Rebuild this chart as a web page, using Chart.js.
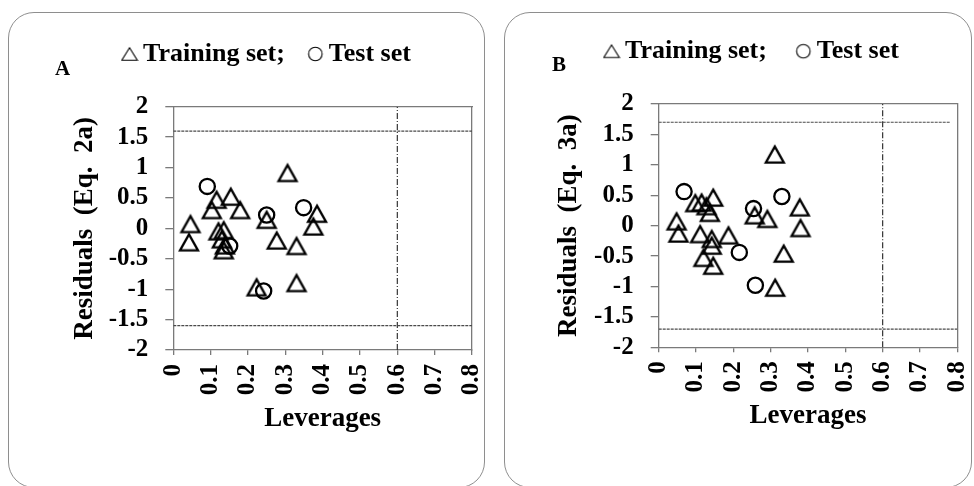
<!DOCTYPE html>
<html>
<head>
<meta charset="utf-8">
<script src="https://cdn.jsdelivr.net/npm/chart.js@4/dist/chart.umd.min.js"></script>
<style>
  html, body { margin: 0; padding: 0; background: #fff; }
  #wrap { position: relative; width: 974px; height: 486px; overflow: hidden; background: #fff; }
  #wrap canvas { position: absolute; top: 0; }
  .frame { position: absolute; top: 12px; height: 476px; box-sizing: border-box;
           border: 1.6px solid #8e8e8e; border-radius: 26px; pointer-events: none; }
</style>
</head>
<body>
<div id="wrap">
  <canvas id="chartA" width="487" height="486" style="left:0px"></canvas>
  <canvas id="chartB" width="487" height="486" style="left:487px"></canvas>
  <div class="frame" style="left:8px;width:477px"></div>
  <div class="frame" style="left:504px;width:468px"></div>
</div>
<script>
// ---- Panel A: residuals of Eq. 2a against leverages ----
const trainLevA = [0.046, 0.042, 0.103, 0.116, 0.154, 0.179, 0.121, 0.135, 0.130, 0.138, 0.135,
                   0.250, 0.277, 0.306, 0.330, 0.330, 0.385, 0.375, 0.223];
const trainResA = [0.08, -0.22, 0.31, 0.48, 0.53, 0.31, -0.04, -0.02, -0.17, -0.27, -0.35,
                   0.15, -0.19, 0.92, -0.28, -0.89, 0.25, 0.04, -0.96];
const testLevA  = [0.091, 0.250, 0.349, 0.242, 0.151];
const testResA  = [0.69, 0.22, 0.34, -1.03, -0.29];
const residLimitA = 1.6;

// ---- Panel B: residuals of Eq. 3a against leverages ----
const trainLevB = [0.048, 0.053, 0.098, 0.115, 0.128, 0.146, 0.137, 0.111, 0.142, 0.142,
                   0.187, 0.120, 0.146, 0.257, 0.291, 0.311, 0.378, 0.380, 0.335, 0.312];
const trainResB = [0.08, -0.12, 0.38, 0.39, 0.33, 0.47, 0.22, -0.13, -0.21, -0.32,
                   -0.15, -0.52, -0.65, 0.18, 0.12, 1.18, 0.31, -0.03, -0.45, -1.01];
const testLevB  = [0.068, 0.216, 0.254, 0.330, 0.259];
const testResB  = [0.56, -0.44, 0.28, 0.48, -0.98];
const residLimitB = 1.7;

// warning leverage h* and the axis ranges
const hStar = 0.6;
const levRange = [0, 0.8];
const residRange = [-2, 2];
const xTickLabels = ['0', '0.1', '0.2', '0.3', '0.4', '0.5', '0.6', '0.7', '0.8'];
const yTickLabels = ['-2', '-1.5', '-1', '-0.5', '0', '0.5', '1', '1.5', '2'];

const SERIF = "'Liberation Serif', 'Times New Roman', serif";

// open triangle drawn in a small canvas, used as a point style
function triangleStyle(w, h, lw, size, dy) {
  const c = document.createElement('canvas');
  c.width = size; c.height = size;
  const g = c.getContext('2d');
  const cx = size / 2, cy = size / 2 + dy;
  g.strokeStyle = '#000'; g.lineWidth = lw; g.lineJoin = 'miter';
  g.beginPath();
  g.moveTo(cx, cy - h / 2);
  g.lineTo(cx + w / 2, cy + h / 2);
  g.lineTo(cx - w / 2, cy + h / 2);
  g.closePath();
  g.stroke();
  return c;
}
// open circle in a small canvas (legend symbol)
function circleStyle(d, lw, size) {
  const c = document.createElement('canvas');
  c.width = size; c.height = size;
  const g = c.getContext('2d');
  g.strokeStyle = '#000'; g.lineWidth = lw;
  g.beginPath();
  g.arc(size / 2, size / 2, d / 2, 0, Math.PI * 2);
  g.stroke();
  return c;
}

const triMarker = triangleStyle(18, 16, 2.3, 26, 0.65);
const triLegend = triangleStyle(15.5, 12.5, 1.1, 18, 0);
const cirLegend = circleStyle(13.5, 1.1, 18);

function pts(xs, ys) { return xs.map((x, i) => ({ x: x, y: ys[i] })); }

function buildPanel(canvasId, p) {
  const tickFont = { family: SERIF, size: 25, weight: 'bold' };
  const titleFont = { family: SERIF, size: 27, weight: 'bold' };
  const legendFont = { family: SERIF, size: 26, weight: 'bold' };
  const axisGrey = '#7a7a7a';

  const hiddenAxis = (pos, sizeFn) => ({
    type: 'linear', position: pos,
    min: pos === 'top' ? levRange[0] : residRange[0],
    max: pos === 'top' ? levRange[1] : residRange[1],
    ticks: { display: false },
    grid: { display: false },
    border: { display: true, color: axisGrey, width: 1.3 },
    afterFit: sizeFn
  });

  new Chart(document.getElementById(canvasId), {
    type: 'scatter',
    data: {
      datasets: [
        {
          label: 'Training set;',
          data: pts(p.trainLev, p.trainRes),
          pointStyle: triMarker, pointRadius: 9,
          borderColor: '#000', backgroundColor: 'rgba(0,0,0,0)'
        },
        {
          label: 'Test set',
          data: pts(p.testLev, p.testRes),
          pointStyle: 'circle', pointRadius: 7.6, borderWidth: 2.3,
          borderColor: '#000', backgroundColor: 'rgba(0,0,0,0)'
        },
        {
          type: 'line', label: 'upper limit',
          data: pts(p.upperX, [p.limit, p.limit]),
          borderColor: '#4a4a4a', borderWidth: 1.2, borderDash: [3, 1],
          pointRadius: 0, fill: false
        },
        {
          type: 'line', label: 'lower limit',
          data: pts(levRange, [-p.limit, -p.limit]),
          borderColor: '#4a4a4a', borderWidth: 1.2, borderDash: [3, 1],
          pointRadius: 0, fill: false
        },
        {
          type: 'line', label: 'h*',
          data: pts([hStar, hStar], residRange),
          borderColor: '#333', borderWidth: 1.2, borderDash: [6, 2, 1, 2],
          pointRadius: 0, fill: false
        }
      ]
    },
    options: {
      responsive: false,
      animation: false,
      events: [],
      layout: { padding: p.pad },
      plugins: {
        tooltip: { enabled: false },
        legend: {
          display: true, position: 'top', align: 'center', weight: 3000,
          labels: {
            usePointStyle: true, pointStyleWidth: 1,
            padding: p.legendGap, color: '#000', font: legendFont,
            generateLabels: () => [
              { text: 'Training set;', pointStyle: triLegend, fillStyle: 'rgba(0,0,0,0)',
                strokeStyle: '#000', lineWidth: 0, hidden: false, datasetIndex: 0 },
              { text: 'Test set', pointStyle: cirLegend, fillStyle: 'rgba(0,0,0,0)',
                strokeStyle: '#000', lineWidth: 0, hidden: false, datasetIndex: 1 }
            ]
          }
        },
        title: {
          display: true, text: p.letter, align: 'start', position: 'top', weight: 500,
          color: '#000', font: { family: SERIF, size: 21, weight: 'bold' },
          padding: p.letterPad
        }
      },
      scales: {
        x: {
          type: 'linear', position: 'bottom',
          min: levRange[0], max: levRange[1],
          ticks: {
            stepSize: 0.1, minRotation: 90, maxRotation: 90, autoSkip: false,
            padding: 9, color: '#000', font: tickFont,
            callback: (v, i) => xTickLabels[i]
          },
          grid: { display: true, drawOnChartArea: false, drawTicks: true, tickLength: 5,
                  color: axisGrey, lineWidth: 1.3 },
          border: { display: true, color: axisGrey, width: 1.3 },
          title: { display: true, text: 'Leverages', color: '#000', font: titleFont,
                   padding: { top: 0, bottom: p.xTitlePad } },
          afterFit: s => { s.height = p.xAxisH; s.paddingLeft = 0; s.paddingRight = 0; }
        },
        y: {
          type: 'linear', position: 'left',
          min: residRange[0], max: residRange[1],
          ticks: {
            stepSize: 0.5, autoSkip: false, padding: 17, color: '#000', font: tickFont,
            callback: (v, i) => yTickLabels[i]
          },
          grid: { display: true, drawOnChartArea: false, drawTicks: true, tickLength: 8,
                  color: axisGrey, lineWidth: 1.3 },
          border: { display: true, color: axisGrey, width: 1.3 },
          title: { display: true, text: p.yTitle, color: '#000', font: titleFont,
                   padding: { top: p.yTitlePad, bottom: 0 } },
          afterFit: s => { s.width = p.yAxisW; s.paddingTop = 0; s.paddingBottom = 0; }
        },
        xTop: hiddenAxis('top', s => { s.height = 0; }),
        yRight: hiddenAxis('right', s => { s.width = p.rightAxisW; })
      }
    }
  });
}

buildPanel('chartA', {
  letter: 'A', yTitle: 'Residuals  (Eq.  2a)',
  trainLev: trainLevA, trainRes: trainResA, testLev: testLevA, testRes: testResA,
  limit: residLimitA, upperX: levRange,
  pad: { top: 11, left: 55, right: 2, bottom: 0 },
  legendGap: 30,
  letterPad: { top: -19.7, bottom: 24.2 },
  yAxisW: 118.3, yTitlePad: 13.8, rightAxisW: 13,
  xAxisH: 136, xTitlePad: 50.7
});

buildPanel('chartB', {
  letter: 'B', yTitle: 'Residuals  (Eq.  3a)',
  trainLev: trainLevB, trainRes: trainResB, testLev: testLevB, testRes: testResB,
  limit: residLimitB, upperX: [0, 0.78],
  pad: { top: 2.2, left: 65, right: 16, bottom: 0 },
  legendGap: 36,
  letterPad: { top: -20.9, bottom: 25.5 },
  yAxisW: 106.7, yTitlePad: 0.8, rightAxisW: 0.7,
  xAxisH: 138.7, xTitlePad: 54
});
</script>
</body>
</html>
